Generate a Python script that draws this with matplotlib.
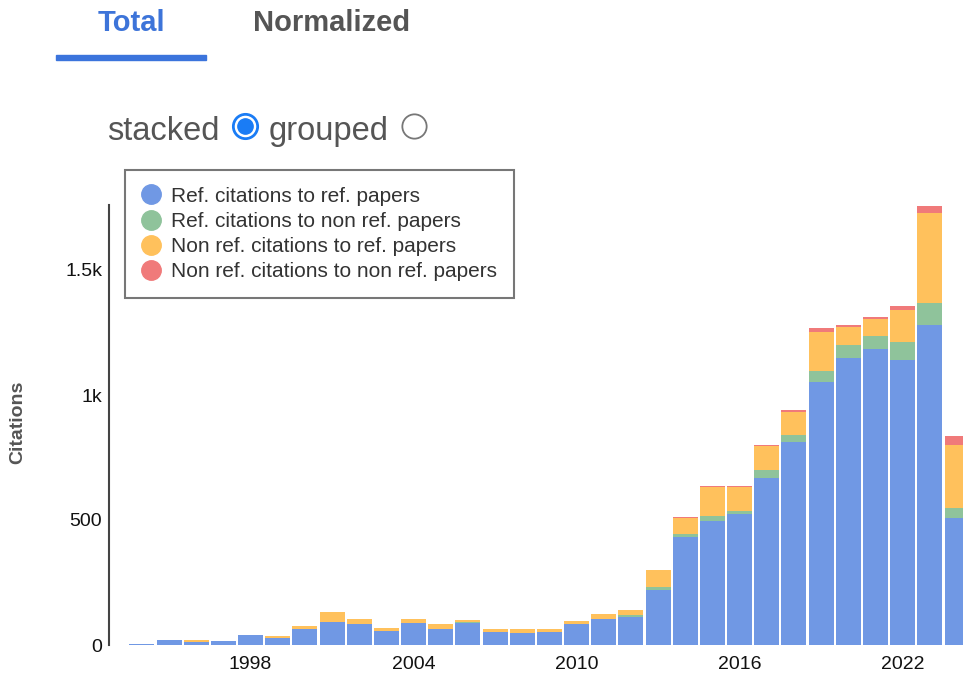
import matplotlib.pyplot as plt
from matplotlib.lines import Line2D
from matplotlib.patches import Rectangle

plt.rcParams['font.family'] = ['Liberation Sans', 'DejaVu Sans']

years = list(range(1994, 2025))
ref_to_ref = [3, 19, 14, 17, 39, 29, 64, 92, 84, 55, 88, 63, 87, 52, 49, 51,
              84, 103, 113, 221, 431, 498, 525, 669, 814, 1051, 1149, 1186,
              1141, 1279, 509]
ref_to_nonref = [0, 0, 0, 0, 0, 0, 0, 0, 0, 3, 0, 0, 5, 0, 0, 0,
                 0, 0, 7, 11, 13, 20, 13, 33, 27, 47, 52, 49,
                 73, 88, 39]
nonref_to_ref = [0, 2, 5, 0, 0, 7, 13, 39, 19, 12, 16, 20, 7, 13, 15, 12,
                 12, 23, 20, 67, 63, 113, 93, 96, 91, 153, 73, 71,
                 128, 360, 252]
nonref_to_nonref = [0, 0, 0, 0, 0, 0, 0, 0, 0, 0, 0, 0, 0, 0, 0, 0,
                    0, 0, 0, 0, 4, 7, 7, 4, 7, 17, 7, 7,
                    15, 31, 35]

series = [ref_to_ref, ref_to_nonref, nonref_to_ref, nonref_to_nonref]
labels = ['Ref. citations to ref. papers', 'Ref. citations to non ref. papers',
          'Non ref. citations to ref. papers', 'Non ref. citations to non ref. papers']
colors = ['#7098e4', '#8fc39b', '#ffc15c', '#f07a7a']
x_ticks = [1998, 2004, 2010, 2016, 2022]

W, H = 963, 681
fig = plt.figure(figsize=(W / 100, H / 100), dpi=100)

# plot area, positions in pixels
ax = fig.add_axes([109 / W, 36 / H, 1 - 109 / W, 440 / H])
bottom = [0] * len(years)
for vals, col in zip(series, colors):
    ax.bar(years, vals, width=0.92, bottom=bottom, color=col, linewidth=0)
    bottom = [b + v for b, v in zip(bottom, vals)]

ax.set_xlim(1992.79, 2024.22)
ax.set_ylim(0, 1760)
ax.set_yticks([0, 500, 1000, 1500])
ax.set_yticklabels(['0', '500', '1k', '1.5k'])
ax.set_xticks(x_ticks)
ax.set_xticklabels([str(y) for y in x_ticks])
ax.tick_params(axis='both', length=0, labelsize=14, colors='#111')
ax.tick_params(axis='y', pad=5)
ax.tick_params(axis='x', pad=8)
for s in ['top', 'right', 'bottom']:
    ax.spines[s].set_visible(False)
ax.spines['left'].set_color('#444')
ax.spines['left'].set_linewidth(1.5)

fig.text(18 / W, 1 - 422 / H, 'Citations', rotation=90, ha='center', va='center',
         fontsize=14, fontweight='bold', color='#555')

# legend
handles = [Line2D([], [], marker='o', linestyle='', markersize=14,
                  markerfacecolor=c, markeredgecolor=c) for c in colors]
leg = fig.legend(handles, labels, loc='upper left',
                 bbox_to_anchor=(125 / W, 1 - 170 / H), borderaxespad=0,
                 fontsize=15, frameon=True, fancybox=False, handletextpad=0.5,
                 labelspacing=0.3, handlelength=0.9, borderpad=0.8)
leg.get_frame().set_edgecolor('#555')
leg.get_frame().set_linewidth(1.5)
for t in leg.get_texts():
    t.set_color('#333')

# tabs
fig.text(131 / W, 1 - 23 / H, 'Total', ha='center', va='center', fontsize=21,
         fontweight='bold', color='#3d74d9')
fig.text(332 / W, 1 - 23 / H, 'Normalized', ha='center', va='center', fontsize=21,
         fontweight='bold', color='#555')
fig.add_artist(Rectangle((56 / W, 1 - 60 / H), 150 / W, 5 / H,
                         transform=fig.transFigure, color='#3b74dc'))

# stacked / grouped switch
fig.text(107 / W, 1 - 140 / H, 'stacked', ha='left', va='baseline',
         fontsize=23.5, color='#555')
fig.text(269 / W, 1 - 140 / H, 'grouped', ha='left', va='baseline',
         fontsize=23.5, color='#555')
for size, col in [(18.5, '#1a7cf5'), (14.5, 'white'), (11, '#1a7cf5')]:
    fig.add_artist(Line2D([244.5 / W], [1 - 126 / H], marker='o', markersize=size,
                          markerfacecolor=col, markeredgecolor=col,
                          transform=fig.transFigure))
fig.add_artist(Line2D([414 / W], [1 - 126 / H], marker='o', markersize=17.5,
                      markerfacecolor='white', markeredgecolor='#777',
                      markeredgewidth=1.3, transform=fig.transFigure))

fig.savefig('out.png', dpi=100)
